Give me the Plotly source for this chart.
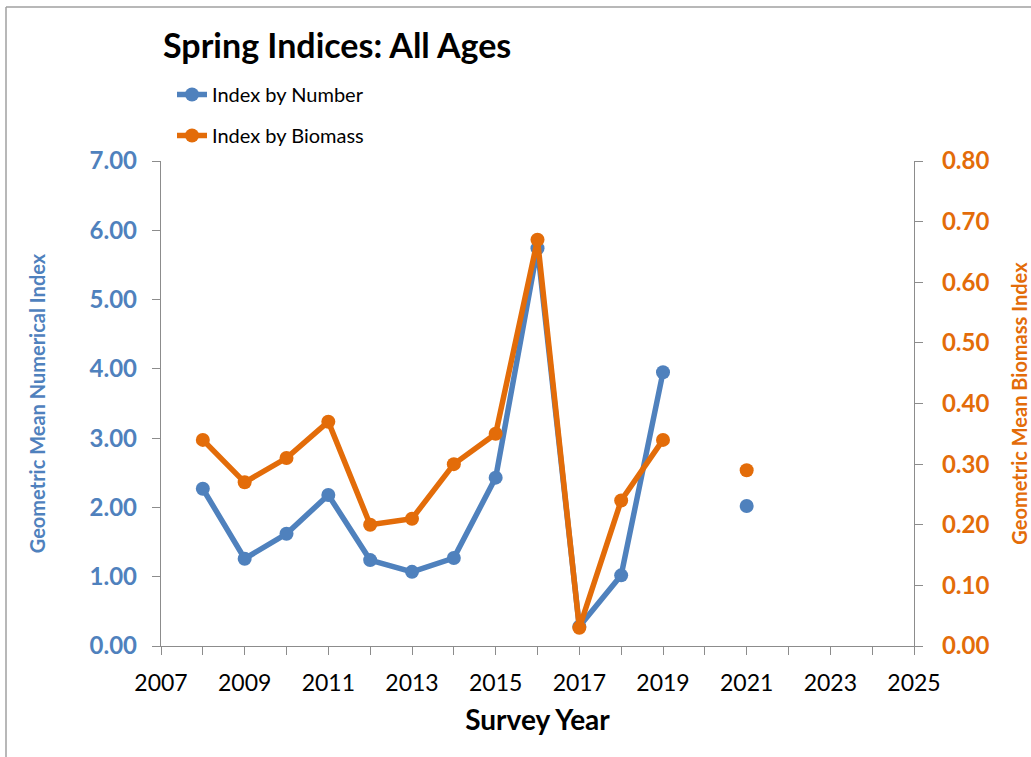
import plotly.graph_objects as go

years = [2008, 2009, 2010, 2011, 2012, 2013, 2014, 2015, 2016, 2017, 2018, 2019, 2020, 2021]
index_by_number = [2.27, 1.26, 1.62, 2.18, 1.24, 1.07, 1.27, 2.43, 5.74, 0.28, 1.02, 3.95, None, 2.02]
index_by_biomass = [0.34, 0.27, 0.31, 0.37, 0.20, 0.21, 0.30, 0.35, 0.67, 0.03, 0.24, 0.34, None, 0.29]

BLUE = "#4F81BD"
ORANGE = "#E36C09"
FONT = "Lato"

fig = go.Figure()
fig.add_trace(go.Scatter(
    x=years, y=index_by_number, name="Index by Number", mode="lines+markers",
    line=dict(color=BLUE, width=5.5), marker=dict(color=BLUE, size=14),
    connectgaps=False, legendgroup="a", yaxis="y"))
fig.add_trace(go.Scatter(
    x=years, y=index_by_biomass, name="Index by Biomass", mode="lines+markers",
    line=dict(color=ORANGE, width=5.5), marker=dict(color=ORANGE, size=14),
    connectgaps=False, legendgroup="b", yaxis="y2"))

L, R, T, B = 161, 117, 161, 111
W, H = 1031, 757
pw, ph = W - L - R, H - T - B

def px(x):
    return (x - L) / pw

def py(y):
    return (H - B - y) / ph

fig.update_layout(
    width=W, height=H,
    margin=dict(l=L, r=R, t=T, b=B, pad=0, autoexpand=False),
    paper_bgcolor="white", plot_bgcolor="white",
    font=dict(family=FONT, color="black"),
    showlegend=True,
    legend=dict(x=px(172), y=py(75), xanchor="left", yanchor="top",
                font=dict(size=20, family=FONT, color="black"),
                tracegroupgap=12, traceorder="grouped", itemwidth=30,
                bgcolor="rgba(0,0,0,0)"),
    title=dict(text="<b>Spring Indices: All Ages</b>", xref="container", x=163 / W, xanchor="left",
               y=1 - 46 / H, yanchor="middle",
               font=dict(size=34, family=FONT, color="black")),
    xaxis=dict(range=[2007, 2025], tick0=2007, dtick=2, showgrid=False, zeroline=False,
               automargin=False,
               showline=True, linecolor="#8C8C8C", linewidth=1.3,
               ticks="outside", ticklen=8, tickcolor="#8C8C8C",
               minor=dict(dtick=1, tick0=2007, ticks="outside", ticklen=8, tickcolor="#8C8C8C"),
               tickfont=dict(size=23, family=FONT, color="black"),
               ticklabelstandoff=8,
               title=dict(text="<b>Survey Year</b>", font=dict(size=28, family=FONT, color="black"), standoff=15)),
    yaxis=dict(range=[0, 7], dtick=1, tickformat=".2f", showgrid=False, zeroline=False,
               automargin=False,
               showline=True, linecolor="#8C8C8C", linewidth=1.3,
               ticks="outside", ticklen=8, tickcolor="#8C8C8C",
               tickfont=dict(size=24, family=FONT, color=BLUE, weight="bold"),
               ticklabelstandoff=10,
               title=dict(text="<b>Geometric Mean Numerical Index</b>",
                          font=dict(size=20, family=FONT, color=BLUE), standoff=38)),
    yaxis2=dict(range=[0, 0.8], dtick=0.1, tickformat=".2f", overlaying="y", side="right",
                showgrid=False, zeroline=False, automargin=False,
                showline=True, linecolor="#8C8C8C", linewidth=1.3,
                ticks="outside", ticklen=8, tickcolor="#8C8C8C",
                tickfont=dict(size=24, family=FONT, color=ORANGE, weight="bold"),
                ticklabelstandoff=14,
                title=dict(text="<b>Geometric Mean Biomass Index</b>",
                           font=dict(size=20, family=FONT, color=ORANGE), standoff=24)),
    shapes=[
        dict(type="line", xref="paper", yref="paper", x0=px(6), x1=px(6), y0=py(7), y1=py(H),
             line=dict(color="#A0A0A0", width=1.5)),
        dict(type="line", xref="paper", yref="paper", x0=px(6), x1=px(W), y0=py(7), y1=py(7),
             line=dict(color="#A0A0A0", width=1.5)),
    ],
)

fig.write_html("out.html")
